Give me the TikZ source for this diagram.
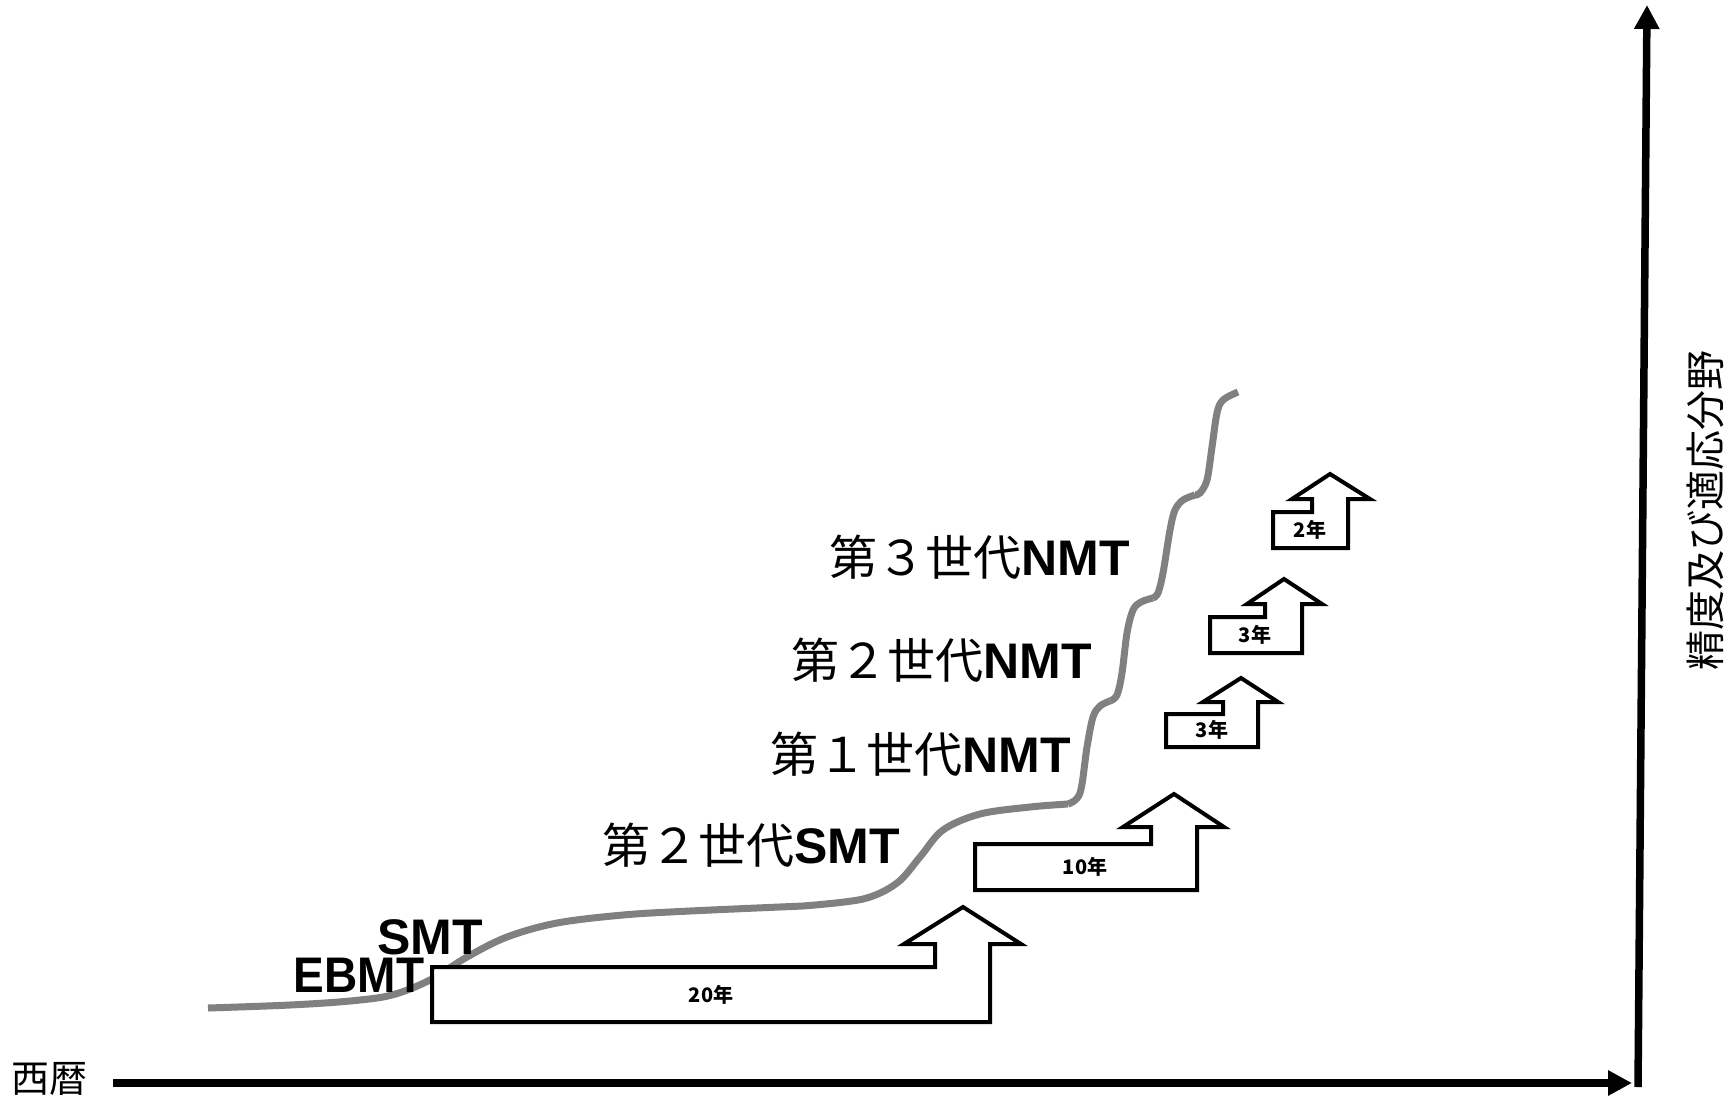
\documentclass[tikz,border=0pt]{standalone}
\usepackage{fontspec}
\newfontfamily\jp{Noto Sans CJK JP}
\newfontfamily\lat{Liberation Sans}
\usetikzlibrary{arrows.meta}
\definecolor{curvegray}{RGB}{128,128,128}
\begin{document}
\begin{tikzpicture}[x=1pt,y=-1pt,
  curve/.style={draw=curvegray, line width=7pt, line cap=butt},
  blk/.style={draw=black, fill=white, line width=4pt, line join=miter},
  axis/.style={line width=7.5pt, -{Triangle[length=24pt,width=24pt]}},
  gen/.style={inner sep=0pt, anchor=base east},
  yr/.style={font=\jp\bfseries\fontsize{20}{24}\selectfont, inner sep=0pt},
  mt/.style={font=\lat\bfseries\fontsize{50}{58}\selectfont, inner sep=0pt, anchor=base}]
\useasboundingbox (0,0) rectangle (1729,1098);
% curve
\draw[curve] plot[smooth,tension=0.55] coordinates {(208,1008) (290,1005) (350,1001) (392,995) (430,980) (467,957) (507,937) (557,923) (623,915) (690,911) (803,906)};
\draw[curve] plot[smooth,tension=0.55] coordinates {(803,906) (863,899) (897,883) (920,857) (943,830) (980,814) (1030,807) (1068,804)};
\draw[curve] plot[smooth,tension=0.55] coordinates {(1068,804) (1080,793) (1087,747) (1093,717) (1100,706) (1110,701)};
\draw[curve] plot[smooth,tension=0.55] coordinates {(1110,701) (1117,695) (1122,673) (1127,633) (1133,610) (1141,602) (1153,598)};
\draw[curve] plot[smooth,tension=0.55] coordinates {(1153,598) (1158,593) (1163,573) (1170,530) (1175,510) (1183,500) (1195,495)};
\draw[curve] plot[smooth,tension=0.55] coordinates {(1195,495) (1200,493) (1207,480) (1212,447) (1217,413) (1223,400) (1238,392)};
% labels
\node[mt, xscale=0.92] (ebmt) at (359,992) {EBMT};
\node[mt] (smt) at (430,954) {SMT};
\node[gen] (g2smt) at (900,863) {{\jp\fontsize{48}{56}\selectfont 第２世代}{\lat\bfseries\fontsize{50}{58}\selectfont SMT}};
\node[gen] (g1nmt) at (1071,772) {{\jp\fontsize{48}{56}\selectfont 第１世代}{\lat\bfseries\fontsize{50}{58}\selectfont NMT}};
\node[gen] (g2nmt) at (1092,678) {{\jp\fontsize{48}{56}\selectfont 第２世代}{\lat\bfseries\fontsize{50}{58}\selectfont NMT}};
\node[gen] (g3nmt) at (1130,575) {{\jp\fontsize{48}{56}\selectfont 第３世代}{\lat\bfseries\fontsize{50}{58}\selectfont NMT}};
% block arrows
\draw[blk] (432,967) -- (935,967) -- (935,944) -- (904,944) -- (963,907) -- (1021,944) -- (990,944) -- (990,1022) -- (432,1022) -- cycle;
\node[yr] (y20) at (711,995) {20年};
\draw[blk] (975,844) -- (1151,844) -- (1151,827) -- (1123,827) -- (1174,794) -- (1224,827) -- (1197,827) -- (1197,890) -- (975,890) -- cycle;
\node[yr] (y10) at (1085,867) {10年};
\draw[blk] (1166,714) -- (1223,714) -- (1223,702) -- (1203,702) -- (1241,678) -- (1278,702) -- (1258,702) -- (1258,747) -- (1166,747) -- cycle;
\node[yr] (y3a) at (1212,730) {3年};
\draw[blk] (1210,617) -- (1265,617) -- (1265,604) -- (1247,604) -- (1284,579) -- (1322,604) -- (1302,604) -- (1302,653) -- (1210,653) -- cycle;
\node[yr] (y3b) at (1255,635) {3年};
\draw[blk] (1273,512) -- (1312,512) -- (1312,499) -- (1292,499) -- (1330,474) -- (1370,499) -- (1348,499) -- (1348,548) -- (1273,548) -- cycle;
\node[yr] (y2) at (1310,530) {2年};
% axes
\coordinate (xo) at (113,1083);
\coordinate (xe) at (1632,1083);
\coordinate (yo) at (1638,1087);
\coordinate (ye) at (1647,5);
\draw[axis] (xo) -- (xe);
\draw[axis] (yo) -- (ye);
\node[font=\jp\fontsize{38}{44}\selectfont, inner sep=0pt] (xlab) at (50,1079) {西暦};
\node[font=\jp\fontsize{40}{46}\selectfont, inner sep=0pt, rotate=90] (ylab) at (1705,510) {精度及び適応分野};
\end{tikzpicture}
\end{document}
